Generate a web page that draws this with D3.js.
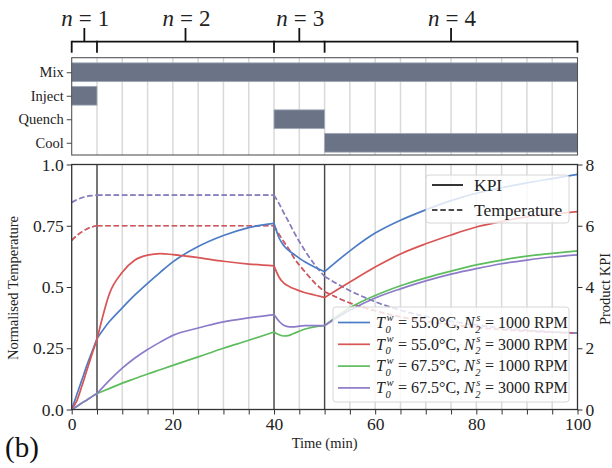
<!DOCTYPE html>
<html>
<head>
<meta charset="utf-8">
<script src="https://cdn.jsdelivr.net/npm/d3@7"></script>
<style>
  body { margin: 0; background: #fff; }
  svg { font-family: "Liberation Serif", "Times New Roman", serif; }
  text { white-space: pre; }
</style>
</head>
<body>
<div id="chart"></div>
<script>
var width = 612,
    height = 468;

// stages of the recipe (gantt)
var stages = ["Mix", "Inject", "Quench", "Cool"];
var stageStart = [0, 0, 40, 50];
var stageEnd = [100, 5, 50, 100];

// phases n = 1..4
var phaseBounds = [0, 5, 40, 50, 100];
var phaseLabels = ["1", "2", "3", "4"];

// sample times (min)
var times = [0, 1, 2, 3, 4, 5, 7.5, 10, 12.5, 15, 17.5, 20, 25, 30, 35, 40,
  41, 42, 43, 44, 46, 48, 50, 55, 60, 65, 70, 75, 80, 85, 90, 95, 100];

// product KPI (right axis)
var kpi55_1000 = [0, 0.48, 0.96, 1.44, 1.88, 2.32, 2.88, 3.32, 3.74, 4.12, 4.48, 4.82, 5.32, 5.68, 5.94, 6.08,
  5.6, 5.34, 5.18, 5.06, 4.83, 4.65, 4.5, 5.18, 5.76, 6.18, 6.52, 6.82, 7.06, 7.24, 7.4, 7.54, 7.68];
var kpi55_3000 = [0, 0.28, 0.76, 1.28, 1.8, 2.28, 3.8, 4.48, 4.88, 5.04, 5.09, 5.06, 4.96, 4.84, 4.75, 4.69,
  4.32, 4.12, 4.02, 3.94, 3.82, 3.74, 3.66, 4.16, 4.65, 5.08, 5.41, 5.7, 5.96, 6.14, 6.29, 6.38, 6.46];
var kpi67_1000 = [0, 0.1, 0.21, 0.31, 0.42, 0.52, 0.69, 0.86, 1.01, 1.16, 1.3, 1.44, 1.72, 2.0, 2.26, 2.53,
  2.44, 2.4, 2.42, 2.49, 2.62, 2.7, 2.74, 3.32, 3.72, 4.04, 4.3, 4.52, 4.72, 4.88, 5.01, 5.1, 5.18];
var kpi67_3000 = [0, 0.1, 0.21, 0.31, 0.42, 0.52, 0.96, 1.35, 1.68, 1.96, 2.2, 2.42, 2.66, 2.86, 2.99, 3.1,
  2.88, 2.74, 2.7, 2.7, 2.74, 2.74, 2.74, 3.24, 3.64, 3.94, 4.2, 4.42, 4.6, 4.76, 4.88, 4.98, 5.05];

// normalised temperature (left axis), same for both stirring speeds
var temp55 = [0.69, 0.71, 0.725, 0.737, 0.745, 0.75, 0.75, 0.75, 0.75, 0.75, 0.75, 0.75, 0.75, 0.75, 0.75, 0.75,
  0.715, 0.683, 0.652, 0.617, 0.565, 0.518, 0.481, 0.435, 0.403, 0.378, 0.36, 0.346, 0.335, 0.326, 0.32, 0.315, 0.312];
var temp67 = [0.845, 0.856, 0.864, 0.87, 0.873, 0.875, 0.875, 0.875, 0.875, 0.875, 0.875, 0.875, 0.875, 0.875, 0.875, 0.875,
  0.84, 0.80, 0.762, 0.722, 0.652, 0.592, 0.543, 0.485, 0.44, 0.405, 0.38, 0.36, 0.345, 0.333, 0.324, 0.317, 0.312];

var colors = { blue: "#4c7cc6", red: "#d95555", green: "#5dbd5d", purple: "#8c7bc8" };

var series = [
  { kpi: kpi55_1000, temp: temp55, c: colors.blue, T: "55.0", N: "1000" },
  { kpi: kpi55_3000, temp: temp55, c: colors.red, T: "55.0", N: "3000" },
  { kpi: kpi67_1000, temp: temp67, c: colors.green, T: "67.5", N: "1000" },
  { kpi: kpi67_3000, temp: temp67, c: colors.purple, T: "67.5", N: "3000" }
];

var svg = d3.select("#chart").append("svg")
  .attr("width", width)
  .attr("height", height);

var x = d3.scaleLinear().domain([0, 100]).range([71.7, 577.5]);
var yL = d3.scaleLinear().domain([0, 1]).range([409.5, 164.5]);
var yR = d3.scaleLinear().domain([0, 8]).range([409.5, 164.5]);
var yG = d3.scaleBand().domain(stages).range([60.5, 154.5]).paddingInner(0.2).paddingOuter(0.1);

var gTop = 57.7, gBot = 155;
var grid5 = d3.range(5, 100, 5);

// ---------- phase brackets ----------
var br = svg.append("g").attr("stroke", "#111").attr("stroke-width", 1.8).attr("fill", "none");
var brY = 41.7;
br.append("line").attr("x1", x(0)).attr("x2", x(100)).attr("y1", brY).attr("y2", brY);
phaseBounds.forEach(function(b) {
  br.append("line").attr("x1", x(b)).attr("x2", x(b)).attr("y1", brY - 0.9).attr("y2", brY + 11);
});
phaseLabels.forEach(function(l, i) {
  var cx = x((phaseBounds[i] + phaseBounds[i + 1]) / 2);
  br.append("line").attr("x1", cx).attr("x2", cx).attr("y1", brY).attr("y2", 28);
  var lg = svg.append("g");
  var w = mathText(lg, 0, 26, [{ s: "n", it: 1 }, { gap: 6 }, { s: "=" }, { gap: 6 }, { s: l }], 23);
  lg.attr("transform", "translate(" + (cx - w / 2 + 1) + ",0)");
});

// ---------- gantt panel ----------
svg.append("g").selectAll("line").data(grid5).join("line")
  .attr("x1", d => x(d)).attr("x2", d => x(d))
  .attr("y1", gTop).attr("y2", gBot)
  .attr("stroke", "#d9d9d9").attr("stroke-width", 1.5);

svg.append("g").selectAll("rect").data(stages).join("rect")
  .attr("x", (d, i) => x(stageStart[i]))
  .attr("width", (d, i) => x(stageEnd[i]) - x(stageStart[i]))
  .attr("y", d => yG(d))
  .attr("height", yG.bandwidth())
  .attr("fill", "#6b7487")
  .attr("stroke", "#a3aab8").attr("stroke-width", 0.8);

svg.append("rect").attr("x", x(0)).attr("y", gTop).attr("width", x(100) - x(0)).attr("height", gBot - gTop)
  .attr("fill", "none").attr("stroke", "#555").attr("stroke-width", 1.1);

var gy = svg.append("g").attr("transform", "translate(" + x(0) + ",0)")
  .call(d3.axisLeft(d3.scalePoint().domain(stages).range([yG("Mix") + yG.bandwidth() / 2, yG("Cool") + yG.bandwidth() / 2]))
    .tickSize(5).tickPadding(3));
gy.select(".domain").remove();
gy.selectAll("text").style("font-family", "Liberation Serif").style("font-size", "14.5px").attr("fill", "#222");
gy.selectAll("line").attr("stroke", "#444");

// ---------- main panel ----------
svg.append("g").selectAll("line").data(grid5).join("line")
  .attr("x1", d => x(d)).attr("x2", d => x(d))
  .attr("y1", yL(1)).attr("y2", yL(0))
  .attr("stroke", "#d9d9d9").attr("stroke-width", 1.5);

svg.append("g").selectAll("line").data([5, 40, 50]).join("line")
  .attr("x1", d => x(d)).attr("x2", d => x(d))
  .attr("y1", yL(1)).attr("y2", yL(0))
  .attr("stroke", "#4a4a4a").attr("stroke-width", 1.4);

// split each curve at the stage changes so kinks stay sharp
var cuts = [0, 5, 40, 50, 100];
function segments(vals) {
  var segs = [];
  for (var k = 0; k < cuts.length - 1; k++) {
    var s = [];
    times.forEach(function(t, i) {
      if (t >= cuts[k] && t <= cuts[k + 1]) s.push([t, vals[i]]);
    });
    segs.push(s);
  }
  return segs;
}

var lineL = d3.line().x(d => x(d[0])).y(d => yL(d[1])).curve(d3.curveMonotoneX);
var lineR = d3.line().x(d => x(d[0])).y(d => yR(d[1])).curve(d3.curveMonotoneX);

function drawCurve(vals, gen, color, dashed, lw) {
  var p = segments(vals).map(s => gen(s)).join("");
  svg.append("path").attr("d", p).attr("fill", "none")
    .attr("stroke", color).attr("stroke-width", lw || 1.7)
    .attr("stroke-dasharray", dashed ? "5.5,2.8" : null);
}

// 1000 RPM temperature sits under the 3000 RPM one
series.forEach(function(s, i) { drawCurve(s.temp, lineL, s.c, true, i % 2 === 0 ? 1.1 : 1.7); });
series.forEach(function(s) { drawCurve(s.kpi, lineR, s.c, false); });

// axes
function styleAxis(g) {
  g.selectAll("text").style("font-family", "Liberation Serif").style("font-size", "17.5px").attr("fill", "#222");
  g.selectAll("line").attr("stroke", "#333");
  g.select(".domain").remove();
}
var leftTicks = [0, 0.25, 0.5, 0.75, 1];
var leftLabels = ["0.0", "0.25", "0.5", "0.75", "1.0"];
svg.append("g").attr("transform", "translate(" + x(0) + ",0)")
  .call(d3.axisLeft(yL).tickValues(leftTicks).tickFormat((d, i) => leftLabels[i]).tickSize(5).tickPadding(3))
  .call(styleAxis);
svg.append("g").attr("transform", "translate(" + x(100) + ",0)")
  .call(d3.axisRight(yR).tickValues([0, 2, 4, 6, 8]).tickFormat(d3.format("d")).tickSize(5).tickPadding(3))
  .call(styleAxis);
svg.append("g").attr("transform", "translate(0," + yL(0) + ")")
  .call(d3.axisBottom(x).tickValues(d3.range(0, 101, 5)).tickFormat(d => d % 20 === 0 ? d : "").tickSize(5).tickPadding(3))
  .call(styleAxis);

svg.append("rect").attr("x", x(0)).attr("y", yL(1)).attr("width", x(100) - x(0)).attr("height", yL(0) - yL(1))
  .attr("fill", "none").attr("stroke", "#333").attr("stroke-width", 1.3);

// axis titles
svg.append("text").attr("transform", "translate(18,288) rotate(-90)")
  .attr("text-anchor", "middle").style("font-size", "14.5px").attr("fill", "#222").text("Normalised Temperature");
svg.append("text").attr("transform", "translate(610,289) rotate(-90)")
  .attr("text-anchor", "middle").style("font-size", "14.5px").attr("fill", "#222").text("Product KPI");
svg.append("text").attr("x", 324.6).attr("y", 448)
  .attr("text-anchor", "middle").style("font-size", "14.5px").attr("fill", "#222").text("Time (min)");
svg.append("text").attr("x", 5).attr("y", 457)
  .style("font-size", "29px").attr("fill", "#111").text("(b)");

// ---------- legends ----------
function legendBox(x0, y0, w, h) {
  svg.append("rect").attr("x", x0).attr("y", y0).attr("width", w).attr("height", h)
    .attr("rx", 3).attr("fill", "#fff").attr("fill-opacity", 0.8)
    .attr("stroke", "#d6d6d6").attr("stroke-width", 1);
}

legendBox(426, 175, 143, 48);
[["KPI", null, 185], ["Temperature", "5.5,2.8", 210]].forEach(function(e) {
  svg.append("line").attr("x1", 432).attr("x2", 463).attr("y1", e[2]).attr("y2", e[2])
    .attr("stroke", "#111").attr("stroke-width", 1.7).attr("stroke-dasharray", e[1]);
  svg.append("text").attr("x", 474).attr("y", e[2] + 5.8).style("font-size", "17.5px").attr("fill", "#222").text(e[0]);
});

legendBox(333, 307, 236, 95);
series.forEach(function(s, i) {
  var yc = 322.5 + i * 21.8;
  svg.append("line").attr("x1", 338).attr("x2", 370).attr("y1", yc).attr("y2", yc)
    .attr("stroke", s.c).attr("stroke-width", 1.7);
  var lg = svg.append("g");
  mathText(lg, 376, yc + 5.3, [
    { s: "T", it: 1 }, { sub: "0", sup: "w" }, { s: " = " + s.T + "°C, " },
    { s: "N", it: 1 }, { sub: "2", sup: "s" }, { s: " = " + s.N + " RPM" }
  ], 16);
});

function mathText(g, x0, y0, parts, size) {
  var cx = x0;
  parts.forEach(function(p) {
    if (p.gap !== undefined) {
      cx += p.gap;
    } else if (p.sub !== undefined) {
      var a = g.append("text").attr("x", cx + 0.5).attr("y", y0 + size * 0.3)
        .style("font-size", (size * 0.66) + "px").style("font-style", "italic").attr("fill", "#222").text(p.sub);
      var b = g.append("text").attr("x", cx + 1.5).attr("y", y0 - size * 0.45)
        .style("font-size", (size * 0.66) + "px").style("font-style", "italic").attr("fill", "#222").text(p.sup);
      cx += Math.max(a.node().getComputedTextLength(), b.node().getComputedTextLength() + 1) + 1;
    } else {
      var t = g.append("text").attr("x", cx).attr("y", y0)
        .style("font-size", size + "px").style("font-style", p.it ? "italic" : "normal")
        .attr("fill", "#222").text(p.s);
      cx += t.node().getComputedTextLength();
    }
  });
  return cx - x0;
}
</script>
</body>
</html>
